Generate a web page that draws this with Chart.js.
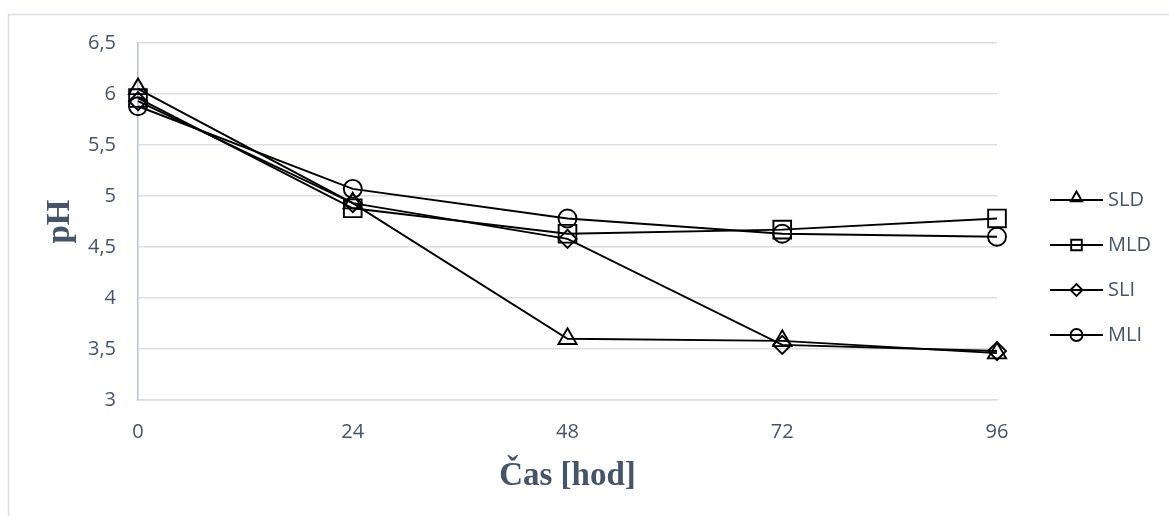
<!DOCTYPE html>
<html>
<head>
<meta charset="utf-8">
<script src="https://cdn.jsdelivr.net/npm/chart.js@4.4.1/dist/chart.umd.min.js"></script>
<style>
  html, body { margin: 0; padding: 0; background: #ffffff; }
  #wrap { position: relative; width: 1169px; height: 516px; }
</style>
</head>
<body>
<div id="wrap"><canvas id="c" width="1169" height="516"></canvas></div>
<script>
// ---- data ----
const categories = ['0', '24', '48', '72', '96'];
const seriesNames = ['SLD', 'MLD', 'SLI', 'MLI'];
const SLD = [6.05, 4.93, 3.60, 3.58, 3.46];
const MLD = [5.96, 4.88, 4.63, 4.67, 4.78];
const SLI = [5.93, 4.93, 4.58, 3.54, 3.48];
const MLI = [5.88, 5.07, 4.78, 4.63, 4.60];
const yTicks = [3, 3.5, 4, 4.5, 5, 5.5, 6, 6.5];
const xTitle = 'Čas [hod]';
const yTitle = 'pH';

const TXT = '#44546A';
const GRID = '#d9dde4';
const TICK_FONT = { family: '"Open Sans"', size: 20 };
const TITLE_FONT = { family: '"Liberation Serif"', size: 33, weight: 'bold' };
const LW = 1.9;

const styles = [
  { pointStyle: 'triangle', radius: 10.5, legendRadius: 6.5 },
  { pointStyle: 'rect', radius: 12.5, legendRadius: 7.5 },
  { pointStyle: 'rectRot', radius: 9, legendRadius: 6 },
  { pointStyle: 'circle', radius: 9, legendRadius: 6 }
];
const values = [SLD, MLD, SLI, MLI];

const datasets = seriesNames.map((name, i) => ({
  label: name,
  data: values[i],
  borderColor: '#000000',
  borderWidth: LW,
  backgroundColor: 'rgba(0,0,0,0)',
  pointStyle: styles[i].pointStyle,
  pointRadius: styles[i].radius,
  pointHoverRadius: styles[i].radius,
  pointBorderColor: '#000000',
  pointBackgroundColor: 'rgba(0,0,0,0)',
  pointBorderWidth: LW,
  tension: 0,
  fill: false
}));

const framePlugin = {
  id: 'frame',
  beforeDraw(chart) {
    const ctx = chart.ctx;
    ctx.save();
    ctx.fillStyle = '#ffffff';
    ctx.fillRect(0, 0, chart.width, chart.height);
    ctx.strokeStyle = GRID;
    ctx.lineWidth = 1.5;
    ctx.beginPath();
    ctx.moveTo(8.5, chart.height + 5);
    ctx.lineTo(8.5, 14.5);
    ctx.lineTo(chart.width + 5, 14.5);
    ctx.stroke();
    ctx.restore();
  }
};

const legendPlugin = {
  id: 'lineLegend',
  afterDraw(chart) {
    const ctx = chart.ctx;
    const area = chart.chartArea;
    const x0 = area.right + 53;
    const lineLen = 53;
    const step = 45;
    const n = chart.data.datasets.length;
    const yc = chart.height / 2 + 9.5;
    const yStart = yc - (n - 1) * step / 2;
    ctx.save();
    chart.data.datasets.forEach((ds, i) => {
      const y = yStart + i * step;
      ctx.strokeStyle = '#000000';
      ctx.lineWidth = LW;
      ctx.beginPath();
      ctx.moveTo(x0, y);
      ctx.lineTo(x0 + lineLen, y);
      ctx.stroke();
      const cx = x0 + lineLen / 2;
      let cy = y;
      if (ds.pointStyle === 'triangle') cy = y - 2;
      ctx.fillStyle = 'rgba(0,0,0,0)';
      ctx.strokeStyle = '#000000';
      Chart.helpers.drawPoint(ctx, {
        pointStyle: ds.pointStyle,
        radius: styles[i].legendRadius,
        rotation: 0,
        borderWidth: LW
      }, cx, cy);
      ctx.fillStyle = TXT;
      ctx.font = TICK_FONT.size + 'px ' + TICK_FONT.family;
      ctx.textAlign = 'left';
      ctx.textBaseline = 'middle';
      ctx.fillText(ds.label, x0 + lineLen + 5, y);
    });
    ctx.restore();
  }
};

new Chart(document.getElementById('c'), {
  type: 'line',
  data: { labels: categories, datasets },
  options: {
    responsive: false,
    animation: false,
    events: [],
    layout: { padding: { left: 36, top: 43, right: 172, bottom: 0 } },
    plugins: {
      legend: { display: false },
      tooltip: { enabled: false }
    },
    scales: {
      x: {
        type: 'category',
        offset: false,
        grid: { display: false, drawTicks: false },
        border: { display: true, color: GRID, width: 1.5 },
        ticks: {
          color: TXT,
          font: TICK_FONT,
          padding: 20,
          maxRotation: 0,
          autoSkip: false
        },
        title: {
          display: true,
          text: xTitle,
          color: TXT,
          font: TITLE_FONT,
          padding: { top: 0, bottom: 20 }
        },
        afterFit(s) { s.height = 116; }
      },
      y: {
        type: 'linear',
        min: yTicks[0],
        max: yTicks[yTicks.length - 1],
        afterBuildTicks(s) { s.ticks = yTicks.map(v => ({ value: v })); },
        grid: { color: GRID, lineWidth: 1.5, drawTicks: false },
        border: { display: true, color: '#b8c2d2', width: 1.5 },
        ticks: {
          color: TXT,
          font: TICK_FONT,
          padding: 22,
          callback: v => String(v).replace('.', ',')
        },
        title: {
          display: true,
          text: yTitle,
          color: TXT,
          font: TITLE_FONT,
          padding: { top: 5, bottom: 0 }
        },
        afterFit(s) { s.width = 138 - 36; }
      }
    }
  },
  plugins: [framePlugin, legendPlugin]
});
</script>
</body>
</html>
